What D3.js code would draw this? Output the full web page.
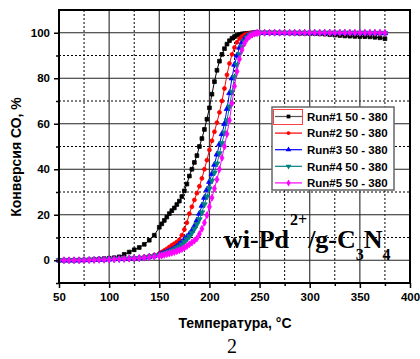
<!DOCTYPE html>
<html>
<head>
<meta charset="utf-8">
<script src="https://cdn.jsdelivr.net/npm/d3@7"></script>
<style>
  body { margin: 0; background: #fff; }
  svg { display: block; }
</style>
</head>
<body>
<svg id="chart" width="420" height="359"></svg>
<script>
// Measurement temperatures, °C (denser through the light-off region)
const temps = [
  50, 55, 60, 65, 70, 75, 80, 85, 90, 95, 100, 105, 110, 115, 120, 125, 130, 135, 140, 145,
  150, 152.5, 155, 157.5, 160, 162.5, 165, 167.5, 170, 172.5, 175, 177.5, 180, 182.5, 185, 187.5,
  190, 192.5, 195, 197.5, 200, 202.5, 205, 207.5, 210, 212.5, 215, 217.5, 220, 222.5, 225, 227.5,
  230, 232.5, 235, 237.5, 240, 242.5, 245, 247.5, 250,
  255, 260, 265, 270, 275, 280, 285, 290, 295, 300, 305, 310, 315, 320, 325, 330, 335, 340, 345,
  350, 355, 360, 365, 370, 375
];

// CO conversion, %, for each heating run
const run1 = [
  0, 0, 0, 0, 0.1, 0.1, 0.2, 0.3, 0.5, 0.7, 0.9, 1.1, 1.5, 2.6, 3.6, 4.6, 5.6, 7, 8.8, 11,
  14.5, 16, 17.5, 19, 20.5, 21.8, 23, 24.5, 26, 28, 30.5, 33.5, 37, 40, 43, 46,
  50, 53.5, 57.5, 62, 67, 73, 78.5, 83.5, 87.5, 90.5, 93, 95, 96.5, 97.6, 98.3, 98.9,
  99.2, 99.5, 99.6, 99.7, 99.8, 99.9, 100, 100, 100,
  100, 100, 100, 99.9, 99.9, 99.8, 99.8, 99.7, 99.7, 99.6, 99.6, 99.5, 99.4, 99.2, 99, 98.8, 98.6, 98.5, 98.4,
  98.3, 98.3, 98.2, 98, 97.8, 97.4
];
const run2 = [
  0, 0, 0, 0, 0, 0.1, 0.1, 0.2, 0.3, 0.4, 0.5, 0.6, 0.7, 0.8, 0.9, 1.0, 1.2, 1.5, 1.9, 2.3,
  3.0, 3.6, 4.3, 5.0, 5.8, 6.6, 7.3, 8, 9, 11, 13.5, 16.5, 20.5, 23.5, 26.5, 29.5,
  32.5, 36, 40, 44, 48.5, 52.5, 56.5, 60.5, 65, 70, 75.5, 81.5, 86.5, 90.5, 93.5, 95.8,
  97.4, 98.4, 99.1, 99.5, 99.8, 99.9, 100, 100, 100,
  100, 100, 100, 100, 100, 100, 100, 100, 100, 100, 100, 100, 100, 100, 100, 99.9, 99.9, 99.9, 99.9,
  99.8, 99.8, 99.8, 99.8, 99.7, 99.7
];
const run3 = [
  0, 0, 0, 0, 0, 0.1, 0.1, 0.2, 0.3, 0.3, 0.4, 0.5, 0.6, 0.7, 0.8, 0.9, 1.0, 1.2, 1.5, 1.9,
  2.4, 2.8, 3.2, 3.6, 4.0, 4.6, 5.2, 6, 7, 8, 9.2, 10.3, 11.5, 13, 15, 17.5,
  20.5, 24, 27.5, 31, 34.5, 38, 42, 46.5, 51, 55.5, 60, 66.5, 73.5, 80, 86, 90,
  93.5, 95.8, 97.4, 98.4, 99, 99.5, 99.8, 99.9, 100,
  100, 100, 100, 100, 100, 100, 100, 100, 100, 100, 100, 100, 100, 100, 100, 100, 100, 100, 99.9,
  99.9, 99.9, 99.9, 99.9, 99.9, 99.8
];
const run4 = [
  0, 0, 0, 0, 0, 0.1, 0.1, 0.2, 0.2, 0.3, 0.4, 0.5, 0.5, 0.6, 0.7, 0.8, 0.9, 1.1, 1.4, 1.8,
  2.2, 2.5, 2.9, 3.3, 3.7, 4.2, 4.7, 5.3, 6, 6.9, 8, 9.2, 10.5, 12, 13.8, 15.8,
  18, 21, 24.5, 28, 31.5, 35, 38.5, 42.5, 47, 51.5, 56, 61.5, 67.5, 74, 80.5, 86,
  90.5, 93.8, 96.2, 97.8, 98.8, 99.4, 99.7, 99.9, 100,
  100, 100, 100, 100, 100, 100, 100, 100, 100, 100, 100, 100, 100, 100, 100, 100, 100, 100, 100,
  100, 100, 99.9, 99.9, 99.9, 99.9
];
const run5 = [
  0, 0, 0, 0, 0, 0, 0.1, 0.1, 0.2, 0.2, 0.3, 0.4, 0.5, 0.6, 0.7, 0.8, 0.9, 1.1, 1.3, 1.6,
  1.9, 2.1, 2.4, 2.7, 3.0, 3.3, 3.6, 4.0, 4.4, 4.9, 5.5, 6.2, 7, 7.8, 8.6, 9.6,
  11.5, 13.8, 16.5, 19.8, 23.5, 27.5, 31.5, 35.5, 40, 45, 50, 55.5, 61.5, 69, 76.5, 83,
  88.5, 92.5, 95.3, 97.2, 98.4, 99.1, 99.6, 99.9, 100,
  100, 100, 100, 100, 100, 100, 100, 100, 100, 100, 100, 100, 100, 100, 100, 100, 100, 100, 100,
  100, 100, 100, 100, 100, 100
];

const seriesNames = ["Run#1 50 - 380", "Run#2 50 - 380", "Run#3 50 - 380", "Run#4 50 - 380", "Run#5 50 - 380"];
const seriesColors = ["#000000", "#ff0000", "#0000ff", "#008080", "#ff00ff"];
const xTicks = [50, 100, 150, 200, 250, 300, 350, 400];
const xMinor = [75, 125, 175, 225, 275, 325, 375];
const yTicks = [0, 20, 40, 60, 80, 100];
const yMinor = [-10, 10, 30, 50, 70, 90];

const allRuns = [run1, run2, run3, run4, run5];
const symbols = [d3.symbolSquare, d3.symbolCircle, d3.symbolTriangle, d3.symbolTriangle, d3.symbolDiamond];
const symbolSizes = [14, 12, 14, 14, 14];
const symbolRotate = [0, 0, 0, 180, 0];

const svg = d3.select("#chart");
const L = 59, R = 410, T = 10, B = 283;
const x = d3.scaleLinear().domain([50, 400]).range([L, R]);
const y = d3.scaleLinear().domain([-10, 110]).range([B, T]);

const sans = "'Liberation Sans', Arial, sans-serif";
const serif = "'Liberation Serif', 'Times New Roman', serif";

// Grid: solid at major ticks, dotted at minor ticks
const grid = svg.append("g");
grid.selectAll(".gxm").data(xMinor).join("line")
  .attr("x1", d => x(d)).attr("x2", d => x(d)).attr("y1", T).attr("y2", B)
  .attr("stroke", "#000").attr("stroke-width", 1).attr("stroke-dasharray", "2,2");
grid.selectAll(".gym").data(yMinor.filter(v => v > -10)).join("line")
  .attr("y1", d => y(d)).attr("y2", d => y(d)).attr("x1", L).attr("x2", R)
  .attr("stroke", "#000").attr("stroke-width", 1).attr("stroke-dasharray", "2,2");
grid.selectAll(".gx").data(xTicks.slice(1, -1)).join("line")
  .attr("x1", d => x(d)).attr("x2", d => x(d)).attr("y1", T).attr("y2", B)
  .attr("stroke", "#3a3a3a").attr("stroke-width", 1.2);
grid.selectAll(".gy").data(yTicks).join("line")
  .attr("y1", d => y(d)).attr("y2", d => y(d)).attr("x1", L).attr("x2", R)
  .attr("stroke", "#222").attr("stroke-width", 1.2);

// Curves
const line = d3.line().x((d, i) => x(temps[i])).y(d => y(d));
allRuns.forEach((vals, k) => {
  const g = svg.append("g");
  g.append("path").datum(vals).attr("d", line)
    .attr("fill", "none").attr("stroke", seriesColors[k]).attr("stroke-width", 1);
  const sym = d3.symbol().type(symbols[k]).size(symbolSizes[k]);
  g.selectAll("path.m").data(vals).join("path").attr("class", "m")
    .attr("d", sym)
    .attr("transform", (d, i) => `translate(${x(temps[i])},${y(d)}) rotate(${symbolRotate[k]})`)
    .attr("fill", seriesColors[k]).attr("stroke", seriesColors[k]).attr("stroke-width", 0.8);
});

// Axes
const xAxis = svg.append("g").attr("transform", `translate(0,${B})`)
  .call(d3.axisBottom(x).tickValues(xTicks).tickSize(5).tickPadding(5).tickFormat(d3.format("d")));
svg.append("g").attr("transform", `translate(0,${B})`)
  .call(d3.axisBottom(x).tickValues(xMinor).tickSize(3).tickFormat(""))
  .call(g => g.select(".domain").remove());
const yAxis = svg.append("g").attr("transform", `translate(${L},0)`)
  .call(d3.axisLeft(y).tickValues(yTicks).tickSize(5).tickPadding(4));
svg.append("g").attr("transform", `translate(${L},0)`)
  .call(d3.axisLeft(y).tickValues(yMinor).tickSize(3).tickFormat(""))
  .call(g => g.select(".domain").remove());
svg.selectAll(".tick line").attr("stroke", "#000").attr("stroke-width", 1.5);
svg.selectAll(".domain").remove();
[xAxis, yAxis].forEach(a => a.selectAll("text")
  .attr("font-family", sans).attr("font-weight", "bold").attr("font-size", 11.5).attr("fill", "#000"));

// Frame
svg.append("rect").attr("x", L).attr("y", T).attr("width", R - L).attr("height", B - T)
  .attr("fill", "none").attr("stroke", "#000").attr("stroke-width", 2);

// Axis titles
svg.append("text").attr("x", 235).attr("y", 328).attr("text-anchor", "middle")
  .attr("font-family", sans).attr("font-weight", "bold").attr("font-size", 14)
  .text("Температура, °C");
svg.append("text").attr("transform", "translate(21,157) rotate(-90)").attr("text-anchor", "middle")
  .attr("font-family", sans).attr("font-weight", "bold").attr("font-size", 14)
  .text("Конверсия СО, %");

// Legend
const lg = svg.append("g");
lg.append("rect").attr("x", 272).attr("y", 107).attr("width", 122).attr("height", 83)
  .attr("fill", "#fff").attr("stroke", "#666").attr("stroke-width", 1.5);
lg.append("rect").attr("x", 273.5).attr("y", 109.5).attr("width", 29).attr("height", 15)
  .attr("fill", "none").attr("stroke", "#ff4040").attr("stroke-width", 1);
seriesNames.forEach((name, k) => {
  const cy = 116.5 + k * 16.6;
  lg.append("line").attr("x1", 275).attr("x2", 302).attr("y1", cy).attr("y2", cy)
    .attr("stroke", k === 0 ? "#555" : seriesColors[k]).attr("stroke-width", 1.2);
  lg.append("path").attr("d", d3.symbol().type(symbols[k]).size(symbolSizes[k])())
    .attr("transform", `translate(288.5,${cy}) rotate(${symbolRotate[k]})`)
    .attr("fill", seriesColors[k]);
  lg.append("text").attr("x", 307).attr("y", cy + 4.2)
    .attr("font-family", sans).attr("font-weight", "bold").attr("font-size", 11.5)
    .text(name);
});

// Catalyst label
const lab = svg.append("text").attr("x", 224).attr("y", 248)
  .attr("font-family", serif).attr("font-weight", "bold").attr("font-size", 26);
lab.append("tspan").text("wi-Pd");
lab.append("tspan").attr("dy", -23).attr("dx", 1).attr("font-size", 16).text("2+");
lab.append("tspan").attr("dy", 23).attr("dx", 1).text("/g-C");
lab.append("tspan").attr("dy", 12).attr("font-size", 16).text("3");
lab.append("tspan").attr("dy", -12).text("N");
lab.append("tspan").attr("dy", 12).attr("font-size", 16).text("4");

// Panel number
svg.append("text").attr("x", 232).attr("y", 353).attr("text-anchor", "middle")
  .attr("font-family", serif).attr("font-size", 20).text("2");
</script>
</body>
</html>
